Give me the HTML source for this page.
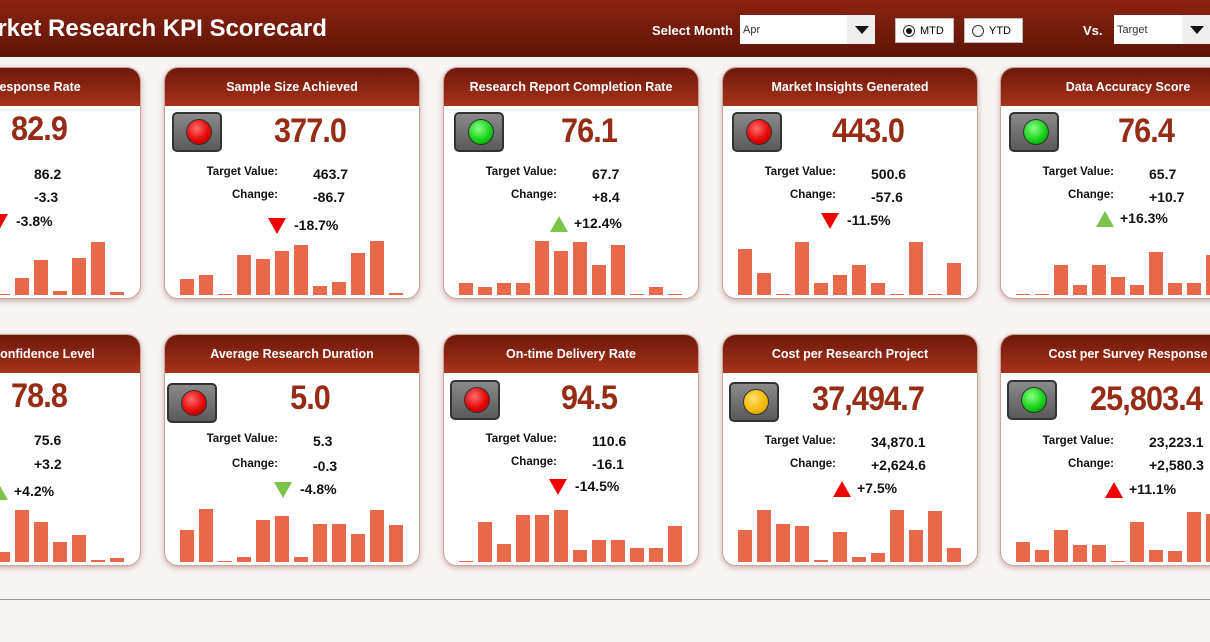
<!DOCTYPE html>
<html><head><meta charset="utf-8"><style>
*{margin:0;padding:0;box-sizing:border-box}
html,body{width:1210px;height:642px;overflow:hidden}
body{background:#f7f5f4;font-family:"Liberation Sans",sans-serif;position:relative}
.top{position:absolute;left:0;top:0;width:1210px;height:57px;background:linear-gradient(#8a2410,#5e1407);}
.title{position:absolute;left:-36px;top:15px;color:#fff;font-weight:bold;font-size:24px;white-space:nowrap}
.lbl{position:absolute;color:#fff;font-weight:bold;font-size:13px;top:23px}
.dd{position:absolute;top:15px;height:29px;background:#fff;font-size:11px;color:#333;padding:9px 3px}
.dd .ar{position:absolute;right:0;top:0;width:28px;height:29px;background:#eee}
.dd .ar:after{content:"";position:absolute;left:8px;top:11px;border-left:7px solid transparent;border-right:7px solid transparent;border-top:8px solid #111}
.rb{position:absolute;top:18px;height:25px;background:#fff;border:1px solid #bbb;font-size:11px;padding:6px 0 0 24px}
.rb i{position:absolute;left:7px;top:6px;width:12px;height:12px;border:1px solid #333;border-radius:50%}
.rb i.on:after{content:"";position:absolute;left:2px;top:2px;width:6px;height:6px;border-radius:50%;background:#111}
.card{position:absolute;width:256px;height:232px;background:#fff;border-radius:14px;border:1px solid #c9a49c;box-shadow:0 2px 6px rgba(120,40,30,.35);overflow:hidden}
.hd{height:38px;background:linear-gradient(#6d190a,#a8321a);color:#fff;font-weight:bold;font-size:12.5px;text-align:center;line-height:38px;white-space:nowrap}
.lt{position:absolute;left:7px;top:44px;width:50px;height:40px;background:linear-gradient(#8a8a8a,#5a5a5a);border:2px solid #333;border-radius:5px}
.lt b{position:absolute;left:12px;top:5px;width:26px;height:26px;border-radius:50%;border:1px solid #333}
.r{background:radial-gradient(circle at 40% 35%,#ff6a6a,#e00000 60%,#a00)}
.g{background:radial-gradient(circle at 40% 35%,#8f8,#1c1 60%,#080)}
.y{background:radial-gradient(circle at 40% 35%,#ffe070,#f2b800 60%,#b80)}
.val{position:absolute;left:60px;width:170px;top:44px;text-align:center;font-family:"Liberation Sans Narrow","Liberation Sans",sans-serif;font-weight:bold;font-size:34px;color:#962c16;letter-spacing:-1px;transform:scaleX(.9)}
.tl{position:absolute;right:141px;font-weight:bold;font-size:11.5px;color:#111;white-space:nowrap}
.tv{position:absolute;left:148px;font-weight:bold;font-size:14px;color:#111;white-space:nowrap}
.pc{position:absolute;font-weight:bold;font-size:14px;color:#111;white-space:nowrap}
.dn{display:inline-block;width:0;height:0;border-left:9px solid transparent;border-right:9px solid transparent;border-top:16px solid #e00;vertical-align:middle;margin-right:8px}
.up{display:inline-block;width:0;height:0;border-left:9px solid transparent;border-right:9px solid transparent;border-bottom:16px solid #e00;vertical-align:middle;margin-right:6px}
.ug{border-bottom-color:#7cc34a}.dg{border-top-color:#7cc34a}
.bars{position:absolute;left:15px;bottom:3px;height:60px;display:flex;align-items:flex-end;gap:5px}
.bars i{display:block;width:14px;background:#e8694a;min-height:1px}
.bl{position:absolute;left:0;top:599px;width:1210px;height:1px;background:#999}
</style></head><body>
<div class="top">
<div class="title">Market Research KPI Scorecard</div>
<div class="lbl" style="left:652px">Select Month</div>
<div class="dd" style="left:740px;width:135px">Apr<span class="ar"></span></div>
<div class="rb" style="left:895px;width:59px"><i class="on"></i>MTD</div>
<div class="rb" style="left:964px;width:59px"><i></i>YTD</div>
<div class="lbl" style="left:1083px">Vs.</div>
<div class="dd" style="left:1114px;width:96px">Target<span class="ar"></span></div>
</div>

<!-- Row 1 -->
<div class="card" style="left:-115px;top:67px"><div class="hd">Survey Response Rate</div>
<div class="val" style="top:42px;left:68px">82.9</div>
<div class="tl" style="top:100px">Target Value:</div><div class="tv" style="top:98px">86.2</div>
<div class="tl" style="top:123px">Change:</div><div class="tv" style="top:121px">-3.3</div>
<div class="pc" style="left:104px;top:145px"><span class="dn"></span>-3.8%</div>
<div class="bars"><i style="height:2px"></i><i style="height:3px"></i><i style="height:3px"></i><i style="height:2px"></i><i style="height:1px"></i><i style="height:1px"></i><i style="height:17px"></i><i style="height:35px"></i><i style="height:4px"></i><i style="height:37px"></i><i style="height:53px"></i><i style="height:3px"></i></div></div>

<div class="card" style="left:164px;top:67px"><div class="hd">Sample Size Achieved</div>
<div class="lt"><b class="r"></b></div><div class="val">377.0</div>
<div class="tl" style="top:98px">Target Value:</div><div class="tv" style="top:98px">463.7</div>
<div class="tl" style="top:121px">Change:</div><div class="tv" style="top:121px">-86.7</div>
<div class="pc" style="left:103px;top:149px"><span class="dn"></span>-18.7%</div>
<div class="bars"><i style="height:16px"></i><i style="height:20px"></i><i style="height:1px"></i><i style="height:40px"></i><i style="height:36px"></i><i style="height:44px"></i><i style="height:50px"></i><i style="height:9px"></i><i style="height:13px"></i><i style="height:42px"></i><i style="height:54px"></i><i style="height:2px"></i></div></div>

<div class="card" style="left:443px;top:67px"><div class="hd">Research Report Completion Rate</div>
<div class="lt" style="left:10px"><b class="g"></b></div><div class="val">76.1</div>
<div class="tl" style="top:98px">Target Value:</div><div class="tv" style="top:98px">67.7</div>
<div class="tl" style="top:121px">Change:</div><div class="tv" style="top:121px">+8.4</div>
<div class="pc" style="left:106px;top:147px"><span class="up ug"></span>+12.4%</div>
<div class="bars"><i style="height:12px"></i><i style="height:8px"></i><i style="height:12px"></i><i style="height:12px"></i><i style="height:54px"></i><i style="height:44px"></i><i style="height:53px"></i><i style="height:30px"></i><i style="height:50px"></i><i style="height:1px"></i><i style="height:8px"></i><i style="height:1px"></i></div></div>

<div class="card" style="left:722px;top:67px"><div class="hd">Market Insights Generated</div>
<div class="lt" style="left:9px"><b class="r"></b></div><div class="val">443.0</div>
<div class="tl" style="top:98px">Target Value:</div><div class="tv" style="top:98px">500.6</div>
<div class="tl" style="top:121px">Change:</div><div class="tv" style="top:121px">-57.6</div>
<div class="pc" style="left:98px;top:144px"><span class="dn"></span>-11.5%</div>
<div class="bars"><i style="height:46px"></i><i style="height:22px"></i><i style="height:1px"></i><i style="height:53px"></i><i style="height:12px"></i><i style="height:20px"></i><i style="height:30px"></i><i style="height:12px"></i><i style="height:1px"></i><i style="height:53px"></i><i style="height:1px"></i><i style="height:32px"></i></div></div>

<div class="card" style="left:1000px;top:67px"><div class="hd">Data Accuracy Score</div>
<div class="lt" style="left:8px"><b class="g"></b></div><div class="val">76.4</div>
<div class="tl" style="top:98px">Target Value:</div><div class="tv" style="top:98px">65.7</div>
<div class="tl" style="top:121px">Change:</div><div class="tv" style="top:121px">+10.7</div>
<div class="pc" style="left:95px;top:142px"><span class="up ug"></span>+16.3%</div>
<div class="bars"><i style="height:1px"></i><i style="height:1px"></i><i style="height:30px"></i><i style="height:10px"></i><i style="height:30px"></i><i style="height:18px"></i><i style="height:10px"></i><i style="height:43px"></i><i style="height:12px"></i><i style="height:12px"></i><i style="height:40px"></i></div></div>

<!-- Row 2 -->
<div class="card" style="left:-115px;top:334px"><div class="hd">Research Confidence Level</div>
<div class="val" style="top:42px;left:68px">78.8</div>
<div class="tl" style="top:99px">Target Value:</div><div class="tv" style="top:97px">75.6</div>
<div class="tl" style="top:123px">Change:</div><div class="tv" style="top:121px">+3.2</div>
<div class="pc" style="left:104px;top:148px"><span class="up ug"></span>+4.2%</div>
<div class="bars"><i style="height:2px"></i><i style="height:3px"></i><i style="height:3px"></i><i style="height:2px"></i><i style="height:1px"></i><i style="height:10px"></i><i style="height:52px"></i><i style="height:40px"></i><i style="height:20px"></i><i style="height:27px"></i><i style="height:2px"></i><i style="height:4px"></i></div></div>

<div class="card" style="left:164px;top:334px"><div class="hd">Average Research Duration</div>
<div class="lt" style="left:2px;top:48px"><b class="r"></b></div><div class="val" style="top:44px">5.0</div>
<div class="tl" style="top:98px">Target Value:</div><div class="tv" style="top:98px">5.3</div>
<div class="tl" style="top:123px">Change:</div><div class="tv" style="top:123px">-0.3</div>
<div class="pc" style="left:109px;top:146px"><span class="dn dg"></span>-4.8%</div>
<div class="bars"><i style="height:32px"></i><i style="height:53px"></i><i style="height:1px"></i><i style="height:5px"></i><i style="height:42px"></i><i style="height:46px"></i><i style="height:5px"></i><i style="height:38px"></i><i style="height:38px"></i><i style="height:28px"></i><i style="height:52px"></i><i style="height:37px"></i></div></div>

<div class="card" style="left:443px;top:334px"><div class="hd">On-time Delivery Rate</div>
<div class="lt" style="left:6px;top:45px"><b class="r"></b></div><div class="val">94.5</div>
<div class="tl" style="top:98px">Target Value:</div><div class="tv" style="top:98px">110.6</div>
<div class="tl" style="top:121px">Change:</div><div class="tv" style="top:121px">-16.1</div>
<div class="pc" style="left:105px;top:143px"><span class="dn"></span>-14.5%</div>
<div class="bars"><i style="height:1px"></i><i style="height:40px"></i><i style="height:18px"></i><i style="height:47px"></i><i style="height:47px"></i><i style="height:52px"></i><i style="height:12px"></i><i style="height:22px"></i><i style="height:22px"></i><i style="height:14px"></i><i style="height:14px"></i><i style="height:36px"></i></div></div>

<div class="card" style="left:722px;top:334px"><div class="hd">Cost per Research Project</div>
<div class="lt" style="left:6px;top:47px"><b class="y"></b></div><div class="val" style="top:45px">37,494.7</div>
<div class="tl" style="top:100px">Target Value:</div><div class="tv" style="top:99px">34,870.1</div>
<div class="tl" style="top:123px">Change:</div><div class="tv" style="top:122px">+2,624.6</div>
<div class="pc" style="left:110px;top:145px"><span class="up"></span>+7.5%</div>
<div class="bars"><i style="height:32px"></i><i style="height:52px"></i><i style="height:38px"></i><i style="height:36px"></i><i style="height:2px"></i><i style="height:30px"></i><i style="height:5px"></i><i style="height:9px"></i><i style="height:52px"></i><i style="height:32px"></i><i style="height:51px"></i><i style="height:14px"></i></div></div>

<div class="card" style="left:1000px;top:334px"><div class="hd">Cost per Survey Response</div>
<div class="lt" style="left:6px;top:45px"><b class="g"></b></div><div class="val" style="top:45px">25,803.4</div>
<div class="tl" style="top:100px">Target Value:</div><div class="tv" style="top:99px">23,223.1</div>
<div class="tl" style="top:123px">Change:</div><div class="tv" style="top:122px">+2,580.3</div>
<div class="pc" style="left:104px;top:146px"><span class="up"></span>+11.1%</div>
<div class="bars"><i style="height:20px"></i><i style="height:12px"></i><i style="height:32px"></i><i style="height:17px"></i><i style="height:17px"></i><i style="height:1px"></i><i style="height:40px"></i><i style="height:12px"></i><i style="height:11px"></i><i style="height:50px"></i><i style="height:48px"></i></div></div>

<div class="bl"></div>
</body></html>
